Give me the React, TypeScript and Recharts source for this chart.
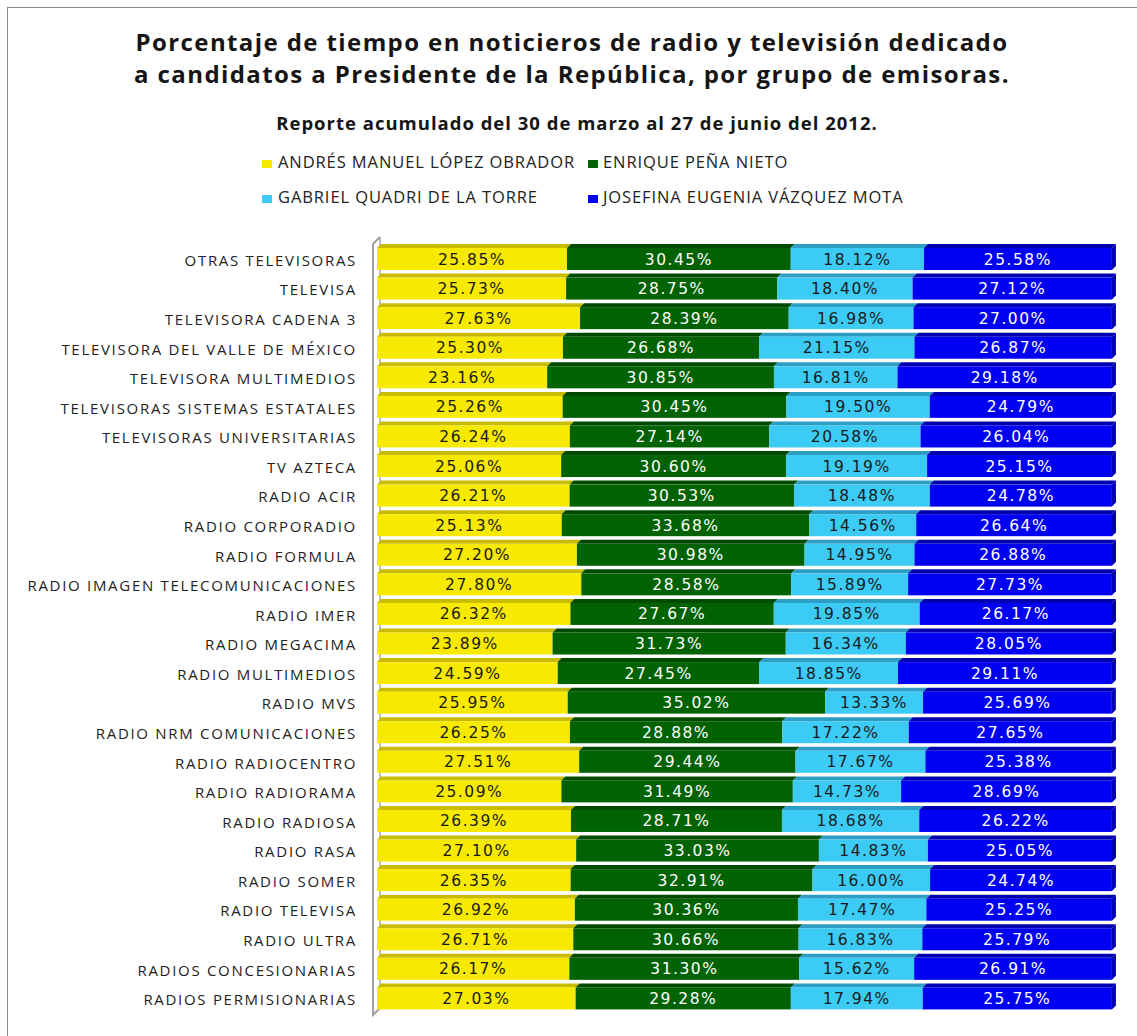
import React from 'react';
import { BarChart, Bar, XAxis, YAxis, LabelList } from 'recharts';

const emisoras = [
  'OTRAS TELEVISORAS',
  'TELEVISA',
  'TELEVISORA CADENA 3',
  'TELEVISORA DEL VALLE DE MÉXICO',
  'TELEVISORA MULTIMEDIOS',
  'TELEVISORAS SISTEMAS ESTATALES',
  'TELEVISORAS UNIVERSITARIAS',
  'TV AZTECA',
  'RADIO ACIR',
  'RADIO CORPORADIO',
  'RADIO FORMULA',
  'RADIO IMAGEN TELECOMUNICACIONES',
  'RADIO IMER',
  'RADIO MEGACIMA',
  'RADIO MULTIMEDIOS',
  'RADIO MVS',
  'RADIO NRM COMUNICACIONES',
  'RADIO RADIOCENTRO',
  'RADIO RADIORAMA',
  'RADIO RADIOSA',
  'RADIO RASA',
  'RADIO SOMER',
  'RADIO TELEVISA',
  'RADIO ULTRA',
  'RADIOS CONCESIONARIAS',
  'RADIOS PERMISIONARIAS',
];

const amlo = [25.85, 25.73, 27.63, 25.3, 23.16, 25.26, 26.24, 25.06, 26.21, 25.13, 27.2, 27.8, 26.32, 23.89, 24.59, 25.95, 26.25, 27.51, 25.09, 26.39, 27.1, 26.35, 26.92, 26.71, 26.17, 27.03];
const epn = [30.45, 28.75, 28.39, 26.68, 30.85, 30.45, 27.14, 30.6, 30.53, 33.68, 30.98, 28.58, 27.67, 31.73, 27.45, 35.02, 28.88, 29.44, 31.49, 28.71, 33.03, 32.91, 30.36, 30.66, 31.3, 29.28];
const gqt = [18.12, 18.4, 16.98, 21.15, 16.81, 19.5, 20.58, 19.19, 18.48, 14.56, 14.95, 15.89, 19.85, 16.34, 18.85, 13.33, 17.22, 17.67, 14.73, 18.68, 14.83, 16.0, 17.47, 16.83, 15.62, 17.94];
const jvm = [25.58, 27.12, 27.0, 26.87, 29.18, 24.79, 26.04, 25.15, 24.78, 26.64, 26.88, 27.73, 26.17, 28.05, 29.11, 25.69, 27.65, 25.38, 28.69, 26.22, 25.05, 24.74, 25.25, 25.79, 26.91, 25.75];

const titleLines = [
  'Porcentaje de tiempo en noticieros de radio y televisión dedicado',
  'a candidatos a Presidente de la República, por grupo de emisoras.',
];
const subtitle = 'Reporte acumulado del 30 de marzo al 27 de junio del 2012.';

const series = [
  { key: 'amlo', name: 'ANDRÉS MANUEL LÓPEZ OBRADOR', fill: '#F7EA00', top: '#C9BC00', text: '#1a1a1a' },
  { key: 'epn', name: 'ENRIQUE PEÑA NIETO', fill: '#006200', top: '#004A00', text: '#ffffff' },
  { key: 'gqt', name: 'GABRIEL QUADRI DE LA TORRE', fill: '#3CCBF4', top: '#2C9EC4', text: '#1a1a1a' },
  { key: 'jvm', name: 'JOSEFINA EUGENIA VÁZQUEZ MOTA', fill: '#0000F2', top: '#0000B0', text: '#ffffff' },
];

const data = emisoras.map((name, i) => ({
  name,
  amlo: amlo[i],
  epn: epn[i],
  gqt: gqt[i],
  jvm: jvm[i],
}));

const DEPTH = 4;
const FONT = "'Open Sans', sans-serif";

function Box3D(props: any) {
  const { x, y, width, height, fill, topFill, last } = props;
  if (width == null || height == null) return null;
  return (
    <g>
      <polygon
        points={`${x},${y} ${x + DEPTH},${y - DEPTH} ${x + width + DEPTH},${y - DEPTH} ${x + width},${y}`}
        fill={topFill}
      />
      {last && (
        <polygon
          points={`${x + width},${y} ${x + width + DEPTH},${y - DEPTH} ${x + width + DEPTH},${y + height - DEPTH} ${x + width},${y + height}`}
          fill={topFill}
        />
      )}
      <rect x={x} y={y} width={width} height={height} fill={fill} />
    </g>
  );
}

function CategoryTick(props: any) {
  const { x, y, payload } = props;
  return (
    <text
      x={x - 12}
      y={y}
      dy={7}
      textAnchor="end"
      fontFamily={FONT}
      fontSize={15}
      letterSpacing={1.7}
      fill="#222"
    >
      {payload.value}
    </text>
  );
}

function LegendItem({ color, label, sq, tx, base }: { color: string; label: string; sq: number; tx: number; base: number }) {
  return (
    <>
      <span style={{ position: 'absolute', left: sq, top: base - 8, width: 10, height: 8, background: color }} />
      <span
        style={{
          position: 'absolute',
          left: tx,
          top: base - 17.6,
          fontFamily: FONT,
          fontSize: 16.5,
          letterSpacing: 0.9,
          color: '#222',
          whiteSpace: 'nowrap',
          lineHeight: 'normal',
        }}
      >
        {label}
      </span>
    </>
  );
}

const titleStyle: React.CSSProperties = {
  position: 'absolute',
  left: 0,
  width: 1144,
  textAlign: 'center',
  fontFamily: FONT,
  fontWeight: 700,
  fontSize: 24,
  letterSpacing: 1.4,
  lineHeight: '26px',
  color: '#151515',
  whiteSpace: 'nowrap',
};

export default function App() {
  return (
    <div style={{ position: 'absolute', left: 0, top: 0, width: 1137, height: 1036, background: '#fff', overflow: 'hidden' }}>
      <div
        style={{
          position: 'absolute',
          left: 7,
          top: 7,
          width: 1140,
          height: 1040,
          border: '1.5px solid #8a8a8a',
        }}
      />
      <div style={{ ...titleStyle, top: 29 }}>{titleLines[0]}</div>
      <div style={{ ...titleStyle, top: 61 }}>{titleLines[1]}</div>
      <div
        style={{
          position: 'absolute',
          left: 0,
          top: 110,
          width: 1154,
          textAlign: 'center',
          fontFamily: FONT,
          fontWeight: 700,
          fontSize: 18.5,
          letterSpacing: 1,
          lineHeight: 'normal',
          color: '#151515',
          whiteSpace: 'nowrap',
        }}
      >
        {subtitle}
      </div>
      <LegendItem color={series[0].fill} label={series[0].name} sq={262} tx={278} base={168} />
      <LegendItem color={series[1].fill} label={series[1].name} sq={588} tx={603} base={168} />
      <LegendItem color={series[2].fill} label={series[2].name} sq={262} tx={278} base={203} />
      <LegendItem color={series[3].fill} label={series[3].name} sq={588} tx={603} base={203} />

      <svg style={{ position: 'absolute', left: 0, top: 0 }} width={1137} height={1036}>
        <line x1={380} y1={237} x2={380} y2={1008} stroke="#a8a8a8" strokeWidth={1.5} />
        <polyline points="380,237 373,244 373,1015 380,1008" fill="none" stroke="#a0a0a0" strokeWidth={2} />
      </svg>

      <div style={{ position: 'absolute', left: 0, top: 230 }}>
        <BarChart
          width={1137}
          height={800}
          data={data}
          layout="vertical"
          margin={{ top: 14, right: 25, bottom: 17, left: 0 }}
          barSize={22}
        >
          <XAxis type="number" domain={[0, 100]} hide />
          <YAxis
            type="category"
            dataKey="name"
            width={377}
            axisLine={false}
            tickLine={false}
            interval={0}
            tick={<CategoryTick />}
          />
          {series.map((s, idx) => (
            <Bar
              key={s.key}
              dataKey={s.key}
              name={s.name}
              stackId="a"
              fill={s.fill}
              isAnimationActive={false}
              shape={(p: any) => <Box3D {...p} fill={s.fill} topFill={s.top} last={idx === series.length - 1} />}
            >
              <LabelList
                dataKey={s.key}
                position="center"
                formatter={(v: any) => `${Number(v).toFixed(2)}%`}
                fill={s.text}
                fontFamily="'DejaVu Sans', Verdana, sans-serif"
                fontSize={15.5}
                letterSpacing={1.5}
              />
            </Bar>
          ))}
        </BarChart>
      </div>
    </div>
  );
}
